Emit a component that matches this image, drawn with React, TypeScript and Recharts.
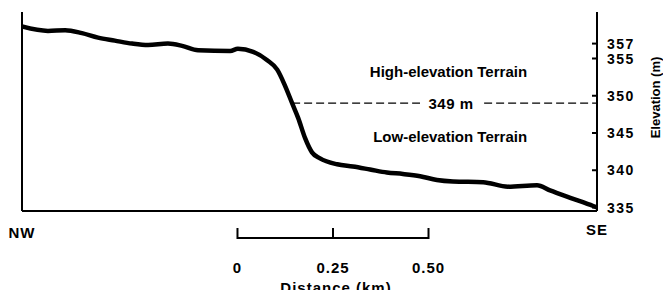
import { LineChart, Line, XAxis, YAxis, ReferenceLine, ReferenceDot } from 'recharts';

// profile NW -> SE, distance along the transect (km) and ground elevation (m)
const distanceKm = [
  0, 0.068, 0.113, 0.157, 0.199, 0.243, 0.288, 0.33, 0.382, 0.419, 0.461, 0.545, 0.565, 0.605,
  0.641, 0.668, 0.688, 0.707, 0.723, 0.741, 0.759, 0.78, 0.825, 0.866, 0.911, 0.955, 0.997,
  1.042, 1.086, 1.128, 1.207, 1.272, 1.348, 1.382, 1.435, 1.495, 1.505,
];
const elevationM = [
  359.3, 358.7, 358.8, 358.4, 357.8, 357.4, 357.0, 356.8, 357.0, 356.7, 356.1, 356.0, 356.3, 355.9,
  354.8, 353.5, 351.4, 349.0, 347.0, 344.3, 342.4, 341.6, 340.8, 340.5, 340.1, 339.7, 339.5,
  339.2, 338.7, 338.5, 338.4, 337.8, 338.0, 337.3, 336.3, 335.2, 335.0,
];
const elevationTicks = [335, 340, 345, 350, 355, 357];
const endLabels = ['NW', 'SE'];
const scaleTicks = [0, 0.25, 0.5];
const scaleLabels = ['0', '0.25', '0.50'];
const thresholdM = 349;
const crossKm = 0.707;
const totalKm = 1.505;
const scaleStartKm = 0.564;

const data = distanceKm.map((d, i) => ({ d, e: elevationM[i] }));

const FONT = '"Liberation Sans", Arial, Helvetica, sans-serif';
const Y_DOMAIN: [number, number] = [334.53, 361.24];

function EndTick({ x, y, payload }: any) {
  const i = payload.value === 0 ? 0 : 1;
  return (
    <text x={x} y={y + (i === 0 ? 27 : 23.5)} textAnchor="middle" fontFamily={FONT} fontWeight="bold" fontSize={15} letterSpacing={1} fill="#000">
      {endLabels[i]}
    </text>
  );
}

function ScaleTick({ x, y, payload }: any) {
  const i = scaleTicks.indexOf(payload.value);
  return (
    <g>
      <line x1={x} x2={x} y1={y - 3} y2={y + 8} stroke="#000" strokeWidth={2} />
      <text x={x} y={y + 41.5} textAnchor="middle" fontFamily={FONT} fontWeight="bold" fontSize={15} letterSpacing={1} fill="#000">
        {scaleLabels[i]}
      </text>
      {i === 1 && (
        <text x={x + 3} y={y + 62} textAnchor="middle" fontFamily={FONT} fontWeight="bold" fontSize={15} letterSpacing={1} fill="#000">
          Distance (km)
        </text>
      )}
    </g>
  );
}

function ElevTick({ x, y, payload }: any) {
  return (
    <g>
      <line x1={x - 5} x2={x} y1={y} y2={y} stroke="#000" strokeWidth={2} />
      <text x={x + 10} y={y} dy="0.36em" textAnchor="start" fontFamily={FONT} fontWeight="bold" fontSize={14} letterSpacing={1.5} fill="#000">
        {payload.value}
      </text>
    </g>
  );
}

const textLabel = (text: string) => (props: any) => {
  const { x, y } = props.viewBox;
  return (
    <text x={x} y={y} dy="0.36em" textAnchor="end" fontFamily={FONT} fontWeight="bold" fontSize={15} fill="#000">
      {text}
    </text>
  );
};

const thresholdLabel = (props: any) => {
  const { x, y } = props.viewBox;
  return (
    <g>
      <rect x={x - 31} y={y - 8} width={62} height={16} fill="#fff" />
      <text x={x} y={y} dy="0.36em" textAnchor="middle" fontFamily={FONT} fontWeight="bold" fontSize={15} letterSpacing={0.5} fill="#000">
        {`${thresholdM} m`}
      </text>
    </g>
  );
};

const elevLabel = (props: any) => {
  const { x, y, height } = props.viewBox;
  const cx = x + 58;
  const cy = y + height / 2 - 14;
  return (
    <text x={cx} y={cy} transform={`rotate(-90 ${cx} ${cy})`} textAnchor="middle" dy="0.36em" fontFamily={FONT} fontWeight="bold" fontSize={13} fill="#000">
      Elevation (m)
    </text>
  );
};

export default function App() {
  return (
    <div style={{ position: 'absolute', left: 0, top: 0, width: 663, height: 290, background: '#fff' }}>
      <LineChart width={663} height={290} data={data} margin={{ top: 12, right: 0, bottom: 0, left: 0 }}>
        <XAxis
          xAxisId="main"
          dataKey="d"
          type="number"
          domain={[0, totalKm]}
          ticks={[0, totalKm]}
          interval={0}
          allowDataOverflow
          height={20}
          tickSize={0}
          tickMargin={0}
          tickLine={false}
          axisLine={{ stroke: '#000', strokeWidth: 2 }}
          tick={<EndTick />}
        />
        <XAxis
          xAxisId="scale"
          dataKey="d"
          type="number"
          domain={[-scaleStartKm, totalKm - scaleStartKm]}
          ticks={scaleTicks}
          interval={0}
          allowDataOverflow
          height={59}
          tickSize={0}
          tickMargin={0}
          tickLine={false}
          axisLine={false}
          tick={<ScaleTick />}
        />
        <YAxis
          yAxisId="left"
          type="number"
          domain={Y_DOMAIN}
          allowDataOverflow
          width={22}
          tick={false}
          tickLine={false}
          axisLine={{ stroke: '#000', strokeWidth: 2 }}
        />
        <YAxis
          yAxisId="right"
          orientation="right"
          type="number"
          domain={Y_DOMAIN}
          allowDataOverflow
          ticks={elevationTicks}
          interval={0}
          width={66}
          tickSize={0}
          tickMargin={0}
          tickLine={false}
          axisLine={{ stroke: '#000', strokeWidth: 2 }}
          tick={<ElevTick />}
          label={elevLabel}
        />
        <ReferenceLine
          xAxisId="main"
          yAxisId="left"
          segment={[{ x: crossKm, y: thresholdM }, { x: totalKm, y: thresholdM }]}
          stroke="#000"
          strokeWidth={1.3}
          strokeDasharray="8 4"
        />
        <ReferenceLine
          xAxisId="scale"
          yAxisId="left"
          segment={[{ x: scaleTicks[0], y: 330.91 }, { x: scaleTicks[2], y: 330.91 }]}
          stroke="#000"
          strokeWidth={2}
          ifOverflow="visible"
        />
        <ReferenceDot xAxisId="main" yAxisId="left" x={1.123} y={thresholdM} r={0} stroke="none" fill="none" label={thresholdLabel} />
        <ReferenceDot xAxisId="main" yAxisId="left" x={1.322} y={353.3} r={0} stroke="none" fill="none" label={textLabel('High-elevation Terrain')} />
        <ReferenceDot xAxisId="main" yAxisId="left" x={1.322} y={344.5} r={0} stroke="none" fill="none" label={textLabel('Low-elevation Terrain')} />
        <Line
          xAxisId="main"
          yAxisId="left"
          type="monotone"
          dataKey="e"
          stroke="#000"
          strokeWidth={4.5}
          dot={false}
          isAnimationActive={false}
        />
      </LineChart>
    </div>
  );
}
